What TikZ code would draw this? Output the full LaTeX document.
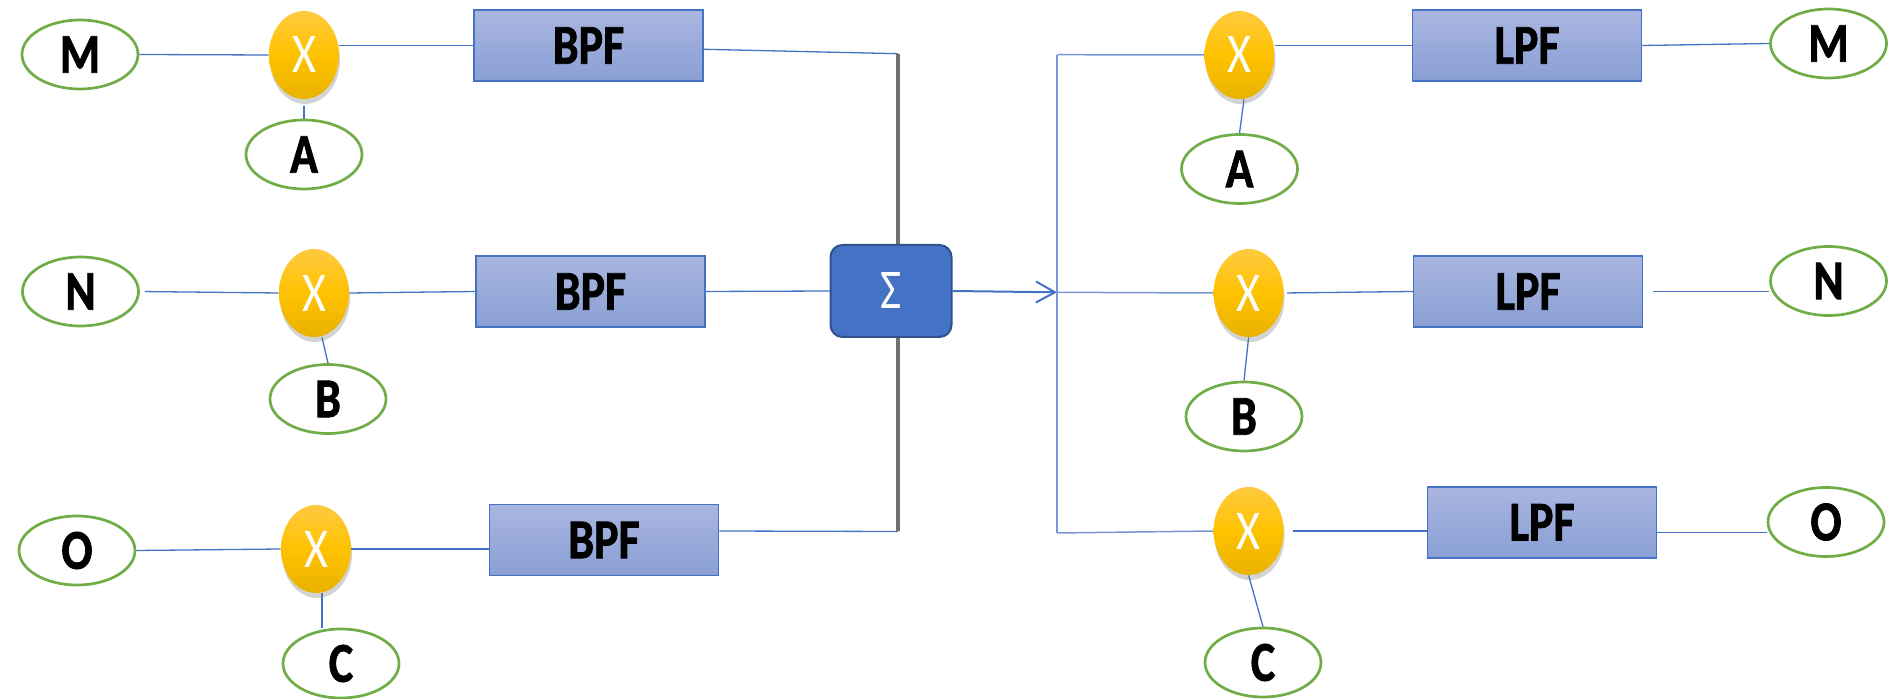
\documentclass[tikz,border=0pt]{standalone}
\usepackage{fontspec}
\setmainfont{Carlito}[BoldFeatures={FakeBold=1.5}]
\usetikzlibrary{shapes.geometric,arrows.meta,shadows,calc,backgrounds}
\definecolor{lblue}{RGB}{68,114,196}
\definecolor{vblue}{RGB}{122,152,214}
\definecolor{lgreen}{RGB}{112,173,71}
\definecolor{boxtop}{RGB}{170,182,224}
\definecolor{boxbot}{RGB}{137,159,213}
\definecolor{sigbd}{RGB}{47,82,143}
\definecolor{bargray}{RGB}{112,112,112}
\definecolor{otop}{RGB}{255,202,64}
\definecolor{omid}{RGB}{255,194,0}
\definecolor{obot}{RGB}{232,178,0}
\newcommand{\stretchtxt}[1]{\scalebox{1}[1.22]{#1}}
\begin{document}
\begin{tikzpicture}[x=0.5pt,y=-0.5pt,
 sig/.style={ellipse, draw=lgreen, line width=1.35pt, fill=white, minimum width=58pt, minimum height=34.5pt, inner sep=0pt, font=\fontsize{23}{27}\selectfont\bfseries},
 mix/.style={ellipse, top color=otop, bottom color=obot, middle color=omid, minimum width=35pt, minimum height=44pt, inner sep=0pt, text=white, font=\fontsize{23}{27}\selectfont, drop shadow={shadow xshift=0.5pt, shadow yshift=-2.5pt, opacity=0.35}},
 filt/.style={rectangle, draw=lblue, line width=0.75pt, top color=boxtop, bottom color=boxbot, minimum width=114.5pt, minimum height=35.5pt, inner sep=0pt, font=\fontsize{23}{27}\selectfont\bfseries},
 sumbox/.style={rectangle, rounded corners=6pt, draw=sigbd, line width=1pt, fill=lblue, minimum width=60.5pt, minimum height=46pt, inner sep=0pt, text=white, font=\fontsize{23}{27}\selectfont},
 wire/.style={draw=lblue, line width=0.65pt},
 vwire/.style={draw=vblue, line width=0.75pt}]
\useasboundingbox (0,0) rectangle (1889,699);
% left side
\node[sig] (M1) at (80,54.5) {\stretchtxt{M}};
\node[sig] (N1) at (80.5,291.5) {\stretchtxt{N}};
\node[sig] (O1) at (77,550.5) {\stretchtxt{O}};
\node[mix] (X1L) at (304,55) {\stretchtxt{X}};
\node[mix] (X2L) at (314,293) {\stretchtxt{X}};
\node[mix] (X3L) at (316,549) {\stretchtxt{X}};
\node[sig] (A1) at (304,154.5) {\stretchtxt{A}};
\node[sig] (B1) at (328,399) {\stretchtxt{B}};
\node[sig] (C1) at (341,663.5) {\stretchtxt{C}};
\node[filt] (BPF1) at (588.5,45.5) {\stretchtxt{BPF}};
\node[filt] (BPF2) at (590.5,291.5) {\stretchtxt{BPF}};
\node[filt] (BPF3) at (604,540) {\stretchtxt{BPF}};
% middle
\coordinate (barT) at (898,53.7);
\coordinate (barB) at (898,531.5);
\node[sumbox] (S) at (891,291) {\stretchtxt{Σ}};
\coordinate (vT) at (1057,54.7);
\coordinate (vM) at (1057,292.3);
\coordinate (vB) at (1057,533);
% right side
\node[mix] (X1R) at (1239.5,55) {\stretchtxt{X}};
\node[mix] (X2R) at (1248.6,293) {\stretchtxt{X}};
\node[mix] (X3R) at (1248.6,531) {\stretchtxt{X}};
\node[sig] (A2) at (1239.5,169) {\stretchtxt{A}};
\node[sig] (B2) at (1244,416.5) {\stretchtxt{B}};
\node[sig] (C2) at (1263,662.5) {\stretchtxt{C}};
\node[filt] (LPF1) at (1527,45.5) {\stretchtxt{LPF}};
\node[filt] (LPF2) at (1528,291.5) {\stretchtxt{LPF}};
\node[filt] (LPF3) at (1542,522.3) {\stretchtxt{LPF}};
\node[sig] (M2) at (1828.5,43.5) {\stretchtxt{M}};
\node[sig] (N2) at (1828.5,281) {\stretchtxt{N}};
\node[sig] (O2) at (1826,522) {\stretchtxt{O}};
\coordinate (c1top) at ($(X3L.south)+(6,0)$);
\coordinate (l3o) at ($(LPF3.east)+(0,10)$);
\coordinate (x3b) at ($(BPF3.east)+(0,-9)$);
\coordinate (x1b) at ($(BPF1.east)+(0,3.8)$);
\coordinate (x2b) at ($(X2L.south)+(8,0)$);
\coordinate (x1a) at ($(X1R.south)+(4.5,0)$);
\begin{scope}[on background layer]
 % left wires
 \draw[wire] (M1.east) -- (X1L.west);
 \draw[wire] (X1L.east |- BPF1.west) -- (BPF1.west);
 \draw[wire, shorten <=3.5pt] (X1L.south) -- (A1.north);
 \draw[wire] (x1b) -- (barT);
 \draw[wire, shorten <=2.5pt] (N1.east) -- (X2L.west);
 \draw[wire] (X2L.east) -- (BPF2.west);
 \draw[wire] (x2b) -- (B1.north);
 \draw[wire] (BPF2.east) -- (S.west);
 \draw[wire] (O1.east) -- (X3L.west);
 \draw[wire] (X3L.east) -- (X3L.east -| BPF3.west);
 \draw[wire] (c1top) -- (c1top |- C1.north);
 \draw[wire] (x3b) -- (barB);
 \draw[bargray, line width=2pt] (barT) -- (barB);
 % middle
 \draw[lblue, line width=1pt, -{Straight Barb[length=9.5pt,width=10.5pt,line width=1pt]}] (S.east) -- (vM);
 \draw[vwire] (vT) -- (vB);
 % right wires
 \draw[vwire] (vT) -- (X1R.west);
 \draw[wire] (X1R.east |- LPF1.west) -- (LPF1.west);
 \draw[wire] (LPF1.east) -- (M2.west);
 \draw[wire] (x1a) -- (A2.north);
 \draw[vwire] (vM) -- (X2R.west);
 \draw[wire, shorten <=1.5pt] (X2R.east) -- (LPF2.west);
 \draw[wire, shorten <=5pt] (LPF2.east) -- (LPF2.east -| N2.west);
 \draw[wire] (X2R.south) -- (B2.north);
 \draw[vwire] (vB) -- (X3R.west);
 \draw[wire, shorten <=4.5pt] (X3R.east) -- (X3R.east -| LPF3.west);
 \draw[wire] (l3o) -- (l3o -| O2.west);
 \draw[wire] (X3R.south) -- (C2.north);
\end{scope}
\end{tikzpicture}
\end{document}
